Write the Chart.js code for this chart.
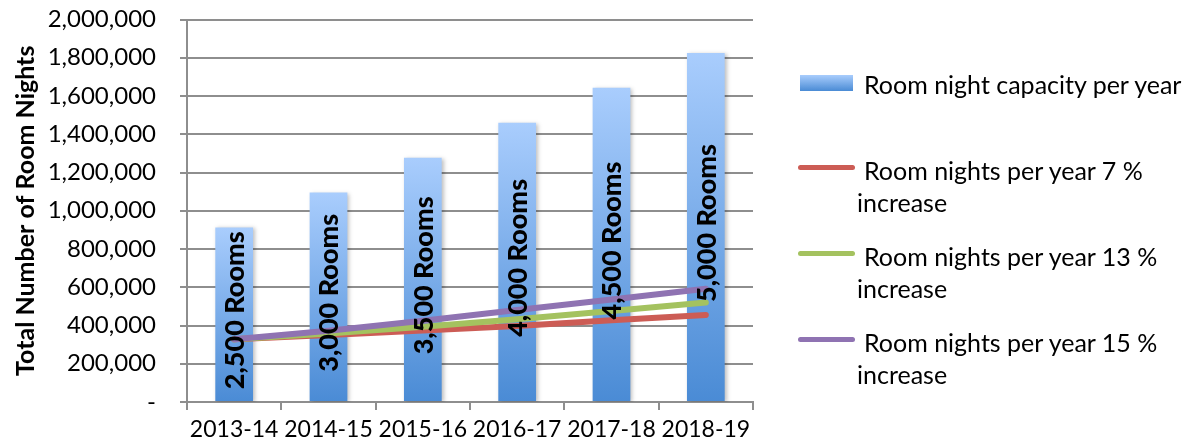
<!DOCTYPE html>
<html>
<head>
<meta charset="utf-8">
<script src="https://cdn.jsdelivr.net/npm/chart.js@4.4.1/dist/chart.umd.min.js"></script>
<style>
  html, body { margin: 0; padding: 0; background: #fff; }
  #wrap { position: relative; width: 1189px; height: 448px; overflow: hidden; }
  #legend { position: absolute; left: 0; top: 0; font-family: Lato, "Open Sans", sans-serif; font-size: 25px; color: #000; }
  .lgSw { position: absolute; }
  .lgSw.bar { left: 800px; width: 53px; height: 16px; background: linear-gradient(#a9cdfd, #4a8bd5); }
  .lgSw.line { left: 798px; width: 57px; height: 5px; border-radius: 3px; }
  .lgTx { position: absolute; left: 857px; width: 330px; line-height: 31.7px; text-indent: 7px; white-space: normal; }
</style>
</head>
<body>
<div id="wrap">
  <canvas id="c" width="1189" height="448"></canvas>
  <div id="legend"></div>
</div>
<script>
/* ---------- 데이터 ---------- */
const years = ["2013-14", "2014-15", "2015-16", "2016-17", "2017-18", "2018-19"];
const capacity = [912500, 1095000, 1277500, 1460000, 1642500, 1825000];
const roomLabels = ["2,500 Rooms", "3,000 Rooms", "3,500 Rooms", "4,000 Rooms", "4,500 Rooms", "5,000 Rooms"];
const growth7 = [328000, 350000, 374000, 398000, 427000, 455000];
const growth13 = [328000, 358000, 394000, 433000, 476000, 520000];
const growth15 = [328000, 373000, 425000, 481000, 536000, 592000];
const yTicks = [0, 200000, 400000, 600000, 800000, 1000000, 1200000, 1400000, 1600000, 1800000, 2000000];

const FONT = "Lato, 'Open Sans', sans-serif";
const GRID = "#8e8e8e";

/* 막대마다 위(연한)→아래(진한) 그라데이션 */
function barFill(ctx) {
  const chart = ctx.chart;
  const y = chart.scales.y;
  if (!chart.chartArea || !y || ctx.raw == null) return "#7aaeea";
  const top = y.getPixelForValue(ctx.raw);
  const base = y.getPixelForValue(0);
  const g = chart.ctx.createLinearGradient(0, top, 0, base);
  g.addColorStop(0, "#a9cdfd");
  g.addColorStop(1, "#4a8bd5");
  return g;
}

/* 막대 그림자 */
const barShadow = {
  id: "barShadow",
  beforeDatasetDraw(chart, args) {
    if (args.index !== 0) return;
    const c = chart.ctx;
    c.save();
    c.shadowColor = "rgba(0,0,0,0.25)";
    c.shadowBlur = 4;
    c.shadowOffsetX = 2;
    c.shadowOffsetY = 1;
  },
  afterDatasetDraw(chart, args) {
    if (args.index === 0) chart.ctx.restore();
  },
};

/* 막대 안 세로 라벨 (선 위에 그림) */
const roomText = {
  id: "roomText",
  afterDatasetsDraw(chart) {
    const c = chart.ctx;
    const meta = chart.getDatasetMeta(0);
    c.save();
    c.fillStyle = "#000";
    c.font = "900 27px " + FONT;
    c.textAlign = "center";
    c.textBaseline = "middle";
    meta.data.forEach((bar, i) => {
      const cy = (bar.y + bar.base) / 2 - 4;
      c.save();
      c.translate(bar.x + 1, cy);
      c.rotate(-Math.PI / 2);
      c.fillText(roomLabels[i], 0, 0);
      c.restore();
    });
    c.restore();
  },
};

function lineSet(label, data, color, order) {
  return {
    type: "line",
    label,
    data,
    borderColor: color,
    backgroundColor: color,
    borderWidth: 6,
    borderCapStyle: "round",
    borderJoinStyle: "round",
    pointRadius: 0,
    tension: 0,
    order,
  };
}

const chart = new Chart(document.getElementById("c"), {
  type: "bar",
  data: {
    labels: years,
    datasets: [
      {
        label: "Room night capacity per year",
        data: capacity,
        backgroundColor: barFill,
        borderWidth: 0,
        barPercentage: 0.4,
        categoryPercentage: 1,
        order: 4,
      },
      lineSet("Room nights per year 7 % increase", growth7, "#cc5c55", 3),
      lineSet("Room nights per year 13 % increase", growth13, "#a4c25f", 2),
      lineSet("Room nights per year 15 % increase", growth15, "#8f73b2", 1),
    ],
  },
  options: {
    responsive: false,
    animation: false,
    devicePixelRatio: 1,
    layout: { padding: { top: 0, right: 436, bottom: 0, left: 0 } },
    plugins: { legend: { display: false }, tooltip: { enabled: false } },
    scales: {
      x: {
        grid: { display: true, drawOnChartArea: false, drawTicks: true, tickLength: 8, color: GRID, lineWidth: 2 },
        border: { color: GRID, width: 2 },
        ticks: { color: "#000", font: { family: FONT, size: 23 }, padding: 6, maxRotation: 0, autoSkip: false },
        afterFit: (s) => { s.height = 46; },
      },
      y: {
        min: 0,
        max: 2000000,
        afterBuildTicks: (s) => { s.ticks = yTicks.map((v) => ({ value: v })); },
        grid: { color: GRID, lineWidth: 2, tickLength: 7 },
        border: { color: GRID, width: 2 },
        ticks: {
          color: "#000",
          font: { family: FONT, size: 24 },
          padding: 24,
          callback: (v) => (v === 0 ? "-" : Number(v).toLocaleString("en-US")),
        },
        title: {
          display: true,
          text: "Total Number of Room Nights",
          color: "#000",
          font: { family: FONT, size: 25, weight: "bold" },
          padding: { top: 11, bottom: 0 },
        },
        afterFit: (s) => {
          s.width = 187;
          s.paddingTop = 19.5;
          s.paddingBottom = 0;
        },
      },
    },
  },
  plugins: [barShadow, roomText],
});

/* 범례 (줄바꿈 때문에 HTML로) */
const lg = document.getElementById("legend");
chart.data.datasets.forEach((ds, i) => {
  const cy = 85 + 86 * i;
  const sw = document.createElement("div");
  if (i === 0) {
    sw.className = "lgSw bar";
    sw.style.top = cy - 10 + "px";
  } else {
    sw.className = "lgSw line";
    sw.style.top = cy - 6 + "px";
    sw.style.background = ds.borderColor;
  }
  const tx = document.createElement("div");
  tx.className = "lgTx";
  tx.style.top = cy - 16 + "px";
  tx.textContent = ds.label;
  lg.appendChild(sw);
  lg.appendChild(tx);
});
</script>
</body>
</html>
